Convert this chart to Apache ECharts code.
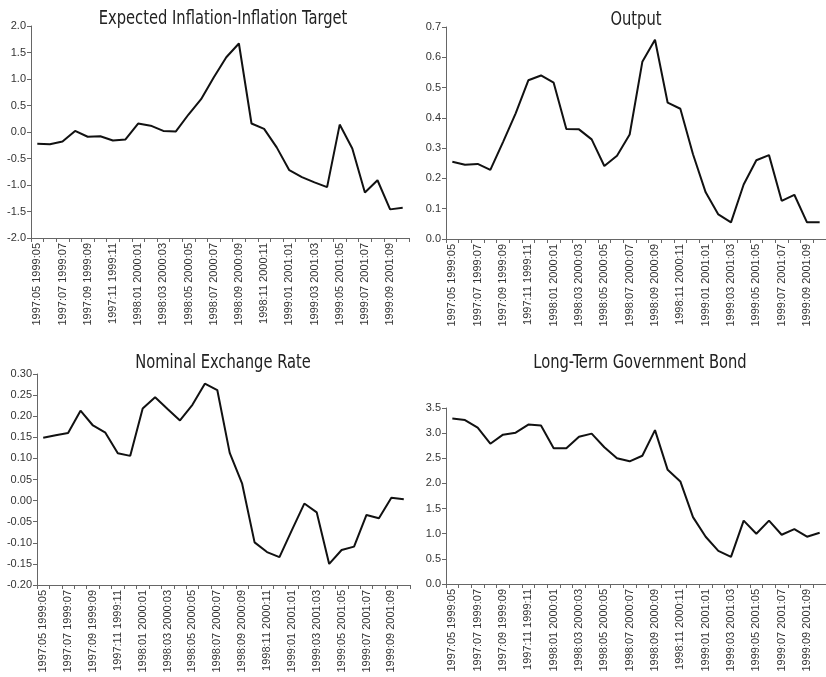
<!DOCTYPE html>
<html><head><meta charset="utf-8">
<script src="https://cdn.jsdelivr.net/npm/echarts@6/dist/echarts.min.js"></script>
<style>html,body{margin:0;padding:0;background:#fff}#c{width:826px;height:677px}</style>
</head><body><div id="c"></div>
<script>
var categories = ["1997:05 1999:05","1997:06 1999:06","1997:07 1999:07","1997:08 1999:08","1997:09 1999:09","1997:10 1999:10","1997:11 1999:11","1997:12 1999:12","1998:01 2000:01","1998:02 2000:02","1998:03 2000:03","1998:04 2000:04","1998:05 2000:05","1998:06 2000:06","1998:07 2000:07","1998:08 2000:08","1998:09 2000:09","1998:10 2000:10","1998:11 2000:11","1998:12 2000:12","1999:01 2001:01","1999:02 2001:02","1999:03 2001:03","1999:04 2001:04","1999:05 2001:05","1999:06 2001:06","1999:07 2001:07","1999:08 2001:08","1999:09 2001:09","1999:10 2001:10"];
var titles = ["Expected Inflation-Inflation Target","Output","Nominal Exchange Rate","Long-Term Government Bond"];
var inflationGap = [-0.22,-0.23,-0.18,0.02,-0.09,-0.08,-0.16,-0.14,0.16,0.12,0.02,0.01,0.33,0.62,1.03,1.41,1.67,0.16,0.06,-0.29,-0.72,-0.85,-0.95,-1.04,0.14,-0.31,-1.14,-0.91,-1.46,-1.43];
var output = [0.255,0.245,0.248,0.228,0.32,0.415,0.524,0.54,0.516,0.363,0.362,0.329,0.241,0.275,0.345,0.585,0.658,0.45,0.43,0.28,0.154,0.081,0.055,0.18,0.26,0.277,0.126,0.146,0.055,0.055];
var exchangeRate = [0.149,0.155,0.16,0.213,0.178,0.161,0.112,0.106,0.218,0.245,0.217,0.19,0.227,0.277,0.262,0.113,0.04,-0.099,-0.122,-0.134,-0.07,-0.007,-0.028,-0.15,-0.117,-0.109,-0.034,-0.042,0.007,0.003];
var govBond = [3.29,3.26,3.11,2.79,2.97,3.01,3.17,3.15,2.70,2.70,2.93,2.99,2.72,2.50,2.44,2.55,3.06,2.27,2.04,1.33,0.94,0.66,0.54,1.26,1.00,1.26,0.98,1.09,0.94,1.02];
var yMin = [-2, 0, -0.2, 0];
var yMax = [2, 0.7, 0.3, 3.5];
var yStep = [0.5, 0.1, 0.05, 0.5];
var yDigits = [1, 1, 2, 1];

var seriesData = [inflationGap, output, exchangeRate, govBond];
var grids = [
  {left: 31, top: 26, width: 378, height: 212},
  {left: 446, top: 27, width: 387, height: 212},
  {left: 37, top: 374, width: 373, height: 211},
  {left: 446, top: 408, width: 387, height: 176}
];
var titlePos = [[223, 10], [636, 11], [223, 354], [640, 354]];
var fontMain = 'Liberation Sans, Arial, sans-serif';
var option = {
  animation: false,
  backgroundColor: '#fff',
  graphic: titles.map(function (t, i) {
    return {type: 'text', x: titlePos[i][0], y: titlePos[i][1], scaleX: 0.86, scaleY: 1,
      style: {text: t, fill: '#222', textAlign: 'center', textVerticalAlign: 'top',
        font: '19px "Liberation Sans Narrow", "DejaVu Sans Condensed", sans-serif'}};
  }),
  grid: grids,
  xAxis: grids.map(function (g, i) {
    return {type: 'category', gridIndex: i, data: categories, boundaryGap: true,
      axisLine: {onZero: false, lineStyle: {color: '#666', width: 1}},
      axisTick: {show: true, interval: 0, length: 4, lineStyle: {color: '#666'}},
      axisLabel: {interval: 1, rotate: 90, fontSize: 11, fontFamily: fontMain, color: '#333', margin: 5},
      splitLine: {show: false}};
  }),
  yAxis: grids.map(function (g, i) {
    return {type: 'value', gridIndex: i, min: yMin[i], max: yMax[i], interval: yStep[i],
      axisLine: {show: true, onZero: false, lineStyle: {color: '#666', width: 1}},
      axisTick: {show: true, length: 4, lineStyle: {color: '#666'}},
      axisLabel: {fontSize: 11, fontFamily: fontMain, color: '#333', margin: 5,
        formatter: function (v) { return v.toFixed(yDigits[i]); }},
      splitLine: {show: false}};
  }),
  series: seriesData.map(function (d, i) {
    return {type: 'line', xAxisIndex: i, yAxisIndex: i, data: d, symbol: 'none',
      lineStyle: {color: '#111', width: 2}};
  })
};
var chart = echarts.init(document.getElementById('c'), null, {renderer: 'canvas'});
chart.setOption(option);
</script>
</body></html>
